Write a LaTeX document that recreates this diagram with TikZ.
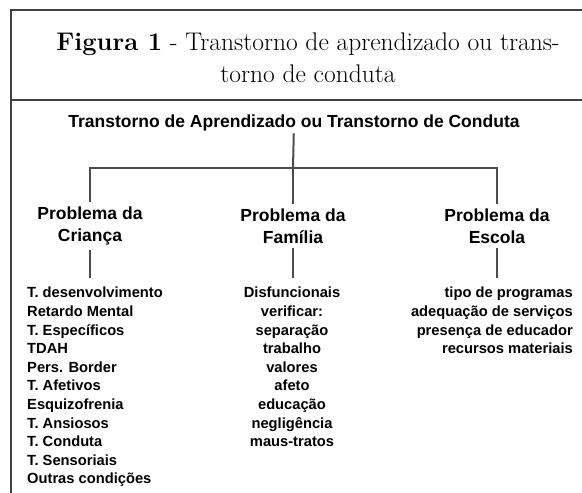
\documentclass[tikz,border=0pt]{standalone}
\usepackage{fontspec}
\setsansfont{Liberation Sans}
\begin{document}
\begin{tikzpicture}[x=1pt, y=-1pt,
  link/.style={draw=black!70, line width=2pt},
  frame/.style={draw=black!75, line width=1.2pt},
  head/.style={font=\sffamily\bfseries\fontsize{17.5}{21}\selectfont, inner sep=2pt},
  prob/.style={font=\sffamily\bfseries\fontsize{17.5}{22}\selectfont, align=center, inner sep=0pt, outer sep=5pt},
  item/.style={font=\sffamily\bfseries\fontsize{14.7}{18.6}\selectfont, inner sep=0pt}]
\useasboundingbox (0,0) rectangle (582,493);
\draw [frame] (582,10) -- (11,10) -- (11,493);
\draw [frame] (11,100) -- (582,100);
\node [align=center, font=\fontsize{25.5}{32}\selectfont] (fig) at (308,58)
  {\textbf{Figura 1} - Transtorno de aprendizado ou trans-\\torno de conduta};
\node [head] (top) at (294,123) {Transtorno de Aprendizado ou Transtorno de Conduta};
\coordinate (bus) at (293,168);
\node [prob] (c) at (90,226) {Problema da\\Criança};
\node [prob] (f) at (293,226) {Problema da\\Família};
\node [prob] (e) at (497,226) {Problema da\\Escola};
\node [item, align=left, anchor=north west] (lc) at (27,287)
  {T. desenvolvimento\\Retardo Mental\\T. Específicos\\TDAH\\Pers. Border\\T. Afetivos\\Esquizofrenia\\T. Ansiosos\\T. Conduta\\T. Sensoriais\\Outras condições};
\node [item, align=center, anchor=north] (lf) at (292,287)
  {Disfuncionais\\verificar:\\separação\\trabalho\\valores\\afeto\\educação\\negligência\\maus-tratos};
\node [item, align=right, anchor=north east] (le) at (573,287)
  {tipo de programas\\adequação de serviços\\presença de educador\\recursos materiais};
% arvore
\draw [link] (top) -- (bus);
\draw [link] (c) |- (bus) -| (e);
\draw [link] (bus) -- (f);
\draw [link, shorten >=9pt] (c) -- (c |- lc.north);
\draw [link, shorten >=9pt] (f) -- (f |- lf.north);
\draw [link, shorten >=9pt] (e) -- (e |- le.north);
\end{tikzpicture}
\end{document}
